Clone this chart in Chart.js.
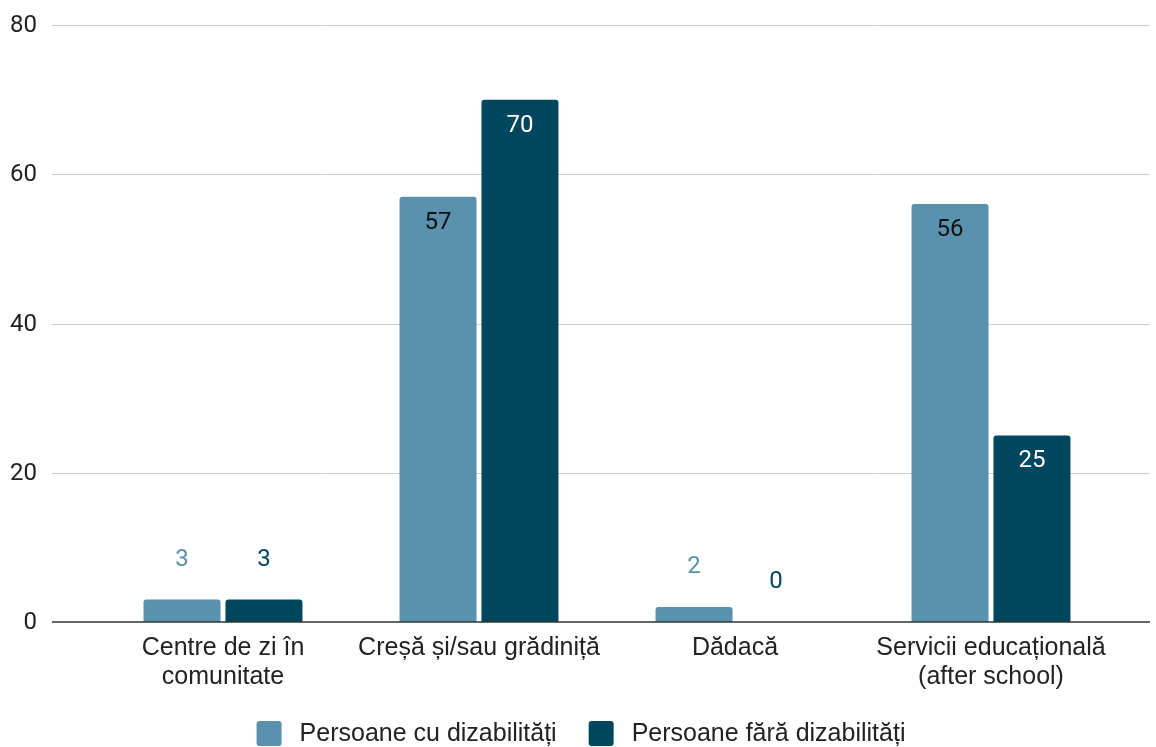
<!DOCTYPE html>
<html><head><meta charset="utf-8">
<script src="https://cdn.jsdelivr.net/npm/chart.js@4/dist/chart.umd.min.js"></script>
<style>html,body{margin:0;padding:0;background:#fff}#wrap{width:1156px;height:747px}</style>
</head><body><div id="wrap"><canvas id="c" width="1156" height="747"></canvas></div>
<script>
const categories = [["Centre de zi în","comunitate"],"Creșă și/sau grădiniță","Dădacă",["Servicii educațională","(after school)"]];
const seriesNames = ["Persoane cu dizabilități","Persoane fără dizabilități"];
const withDisab = [3,57,2,56];
const withoutDisab = [3,70,0,25];
const yTicks = [0,20,40,60,80];
const colors = ["#5a91ae","#01465f"];

function rrect(ctx,x,y,w,h,r){ctx.beginPath();ctx.moveTo(x+r,y);ctx.lineTo(x+w-r,y);ctx.quadraticCurveTo(x+w,y,x+w,y+r);ctx.lineTo(x+w,y+h-r);ctx.quadraticCurveTo(x+w,y+h,x+w-r,y+h);ctx.lineTo(x+r,y+h);ctx.quadraticCurveTo(x,y+h,x,y+h-r);ctx.lineTo(x,y+r);ctx.quadraticCurveTo(x,y,x+r,y);ctx.closePath();}

const gridPlugin = {
  id:'grid',
  beforeDatasetsDraw(chart){
    const ctx=chart.ctx, y=chart.scales.y;
    ctx.save();
    ctx.font='24px Roboto';ctx.textAlign='right';ctx.textBaseline='middle';ctx.fillStyle='#222222';
    yTicks.forEach(v=>{
      const py=Math.round(y.getPixelForValue(v))+0.5;
      ctx.fillText(String(v),37,py);
      if(v===0) return;
      ctx.strokeStyle='#cccccc';ctx.lineWidth=1;
      ctx.beginPath();ctx.moveTo(52,py);ctx.lineTo(1150,py);ctx.stroke();
    });
    ctx.restore();
  },
  afterDatasetsDraw(chart){
    const ctx=chart.ctx, y=chart.scales.y;
    ctx.save();
    const py=y.getPixelForValue(0);
    ctx.strokeStyle='#333333';ctx.lineWidth=1.5;
    ctx.beginPath();ctx.moveTo(52,py);ctx.lineTo(1150,py);ctx.stroke();
    ctx.font='24px Roboto';ctx.textAlign='center';ctx.textBaseline='middle';
    chart.data.datasets.forEach((ds,di)=>{
      const meta=chart.getDatasetMeta(di);
      meta.data.forEach((bar,i)=>{
        const v=ds.data[i];
        if(v>=10){
          ctx.fillStyle = di===0 ? '#111111' : '#ffffff';
          ctx.fillText(String(v), bar.x, bar.y+26);
        } else {
          ctx.fillStyle = colors[di];
          ctx.fillText(String(v), bar.x, bar.y-40);
        }
      });
    });
    ctx.restore();
  },
  afterDraw(chart){
    const ctx=chart.ctx;
    ctx.save();
    ctx.font='25px "Liberation Sans", Arial';ctx.textBaseline='middle';ctx.textAlign='left';
    const cy=733.5, box=25, gapBT=18, gapTB=32;
    const widths=seriesNames.map(s=>ctx.measureText(s).width);
    const total=widths.reduce((a,w)=>a+box+gapBT+w,0)+gapTB*(seriesNames.length-1);
    let x=(chart.width-total)/2+3;
    seriesNames.forEach((s,i)=>{
      ctx.fillStyle=colors[i];rrect(ctx,x,cy-box/2,box,box,3);ctx.fill();
      x+=box+gapBT;
      ctx.fillStyle='#222222';ctx.fillText(s,x,cy+1);
      x+=widths[i]+gapTB;
    });
    ctx.restore();
  }
};

new Chart(document.getElementById('c'),{
  type:'bar',
  data:{labels:categories,datasets:[
    {label:seriesNames[0],data:withDisab,backgroundColor:colors[0],borderRadius:{topLeft:3,topRight:3},borderSkipped:'bottom'},
    {label:seriesNames[1],data:withoutDisab,backgroundColor:colors[1],borderRadius:{topLeft:3,topRight:3},borderSkipped:'bottom'}
  ]},
  options:{
    responsive:false,animation:false,devicePixelRatio:1,
    categoryPercentage:0.64,barPercentage:0.94,
    layout:{padding:{left:0,right:37,top:25,bottom:50}},
    plugins:{tooltip:{enabled:false},legend:{display:false}},
    scales:{
      x:{grid:{display:false,drawTicks:false},border:{display:false},
        ticks:{font:{family:'"Liberation Sans", Arial',size:25,lineHeight:1.16},color:'#222',padding:12,maxRotation:0,autoSkip:false},
        afterFit(s){s.height=75;}},
      y:{min:0,max:80,grid:{display:false,drawTicks:false},border:{display:false},
        afterBuildTicks(s){s.ticks=yTicks.map(v=>({value:v}));},
        ticks:{display:false},
        afterFit(s){s.width=95;}}
    }
  },
  plugins:[gridPlugin]
});
</script></body></html>
